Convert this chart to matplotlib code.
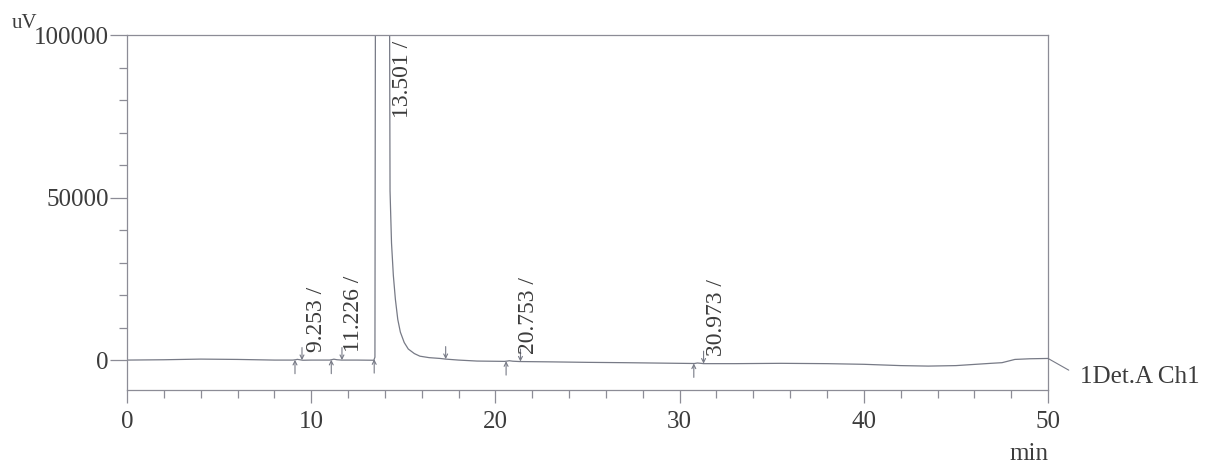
import numpy as np
import matplotlib
matplotlib.use("Agg")
import matplotlib.pyplot as plt

# --- adatok ---
ido = [0.0, 2.0, 4.0, 6.0, 8.0, 9.0, 9.15, 9.25, 9.4, 9.55, 10.0, 11.0, 11.12, 11.23, 11.4, 11.65,
       12.5, 13.4, 13.46, 13.52, 13.8, 14.22, 14.28, 14.36, 14.46, 14.57, 14.70, 14.84, 15.05,
       15.27, 15.6, 15.9, 16.4, 17.0, 17.3, 18.0, 19.0, 20.5, 20.65, 20.75, 20.95, 21.3, 23.0,
       25.0, 27.0, 30.0, 30.8, 30.97, 31.15, 31.3, 33.0, 35.5, 38.0, 40.0, 42.0, 43.5, 45.0,
       46.9, 47.5, 48.2, 49.0, 50.0]
jel = [0, 100, 300, 200, 0, 0, 100, 220, 80, -50, 0, 0, 120, 280, 100, 0,
       0, -50, 900, 250000, 480000, 180000, 52000, 36000, 26000, 18700, 12500, 8600, 5400,
       3400, 2000, 1200, 750, 500, 300, 0, -300, -400, -300, -200, -350, -450, -550,
       -700, -800, -1000, -1050, -900, -1000, -1100, -1100, -1000, -1100, -1300, -1700, -1850, -1700,
       -1000, -800, 200, 400, 500]

csucs_ido = [9.253, 11.226, 13.501, 20.753, 30.973]
csucs_kezdet = [9.12, 11.09, 13.42, 20.58, 30.77]
csucs_veg = [9.50, 11.67, 17.30, 21.36, 31.30]

x_tickek = [0, 10, 20, 30, 40, 50]
y_tickek = [0, 50000, 100000]

vonal_szin = "#777a86"
keret_szin = "#8c8c96"
szoveg_szin = "#3c3c3c"

plt.rcParams["font.family"] = ["Liberation Serif", "DejaVu Serif"]

fig = plt.figure(figsize=(12.14, 4.63), dpi=100, facecolor="white")
ax = fig.add_axes([0.1046, 0.1577, 0.7587, 0.7667])

ax.plot(ido, jel, color=vonal_szin, linewidth=0.9)
ax.set_xlim(0, 50)
ax.set_ylim(-9200, 100000)

for s in ax.spines.values():
    s.set_color(keret_szin)
    s.set_linewidth(0.9)

ax.set_xticks(x_tickek)
ax.set_xticks(np.arange(0, 51, 2), minor=True)
ax.set_yticks(y_tickek)
ax.set_yticks(np.arange(10000, 100000, 10000), minor=True)
ax.set_yticklabels([str(v) for v in y_tickek])
ax.tick_params(axis="both", which="major", labelsize=18, labelcolor=szoveg_szin,
               color=keret_szin, width=0.9)
ax.tick_params(axis="x", which="major", length=9, pad=6)
ax.tick_params(axis="x", which="minor", length=5.5, color=keret_szin, width=0.9)
ax.tick_params(axis="y", which="major", length=12, pad=1)
ax.tick_params(axis="y", which="minor", length=6, color=keret_szin, width=0.9)

# egység feliratok
fig.text(12 / 1214, 1 - 28 / 463, "uV", fontsize=15, color=szoveg_szin, ha="left", va="baseline")
fig.text(1048 / 1214, 1 - 460 / 463, "min", fontsize=18, color=szoveg_szin, ha="right", va="baseline")

# csúcs kezdet / vég nyilak
nyil = dict(arrowstyle="->", color=vonal_szin, lw=0.8, mutation_scale=7, shrinkA=0, shrinkB=0)
for t in csucs_kezdet:
    yv = np.interp(t, ido, jel)
    ax.annotate("", xy=(t, yv), xytext=(0, -10), textcoords="offset points", arrowprops=nyil)
for t in csucs_veg:
    yv = np.interp(t, ido, jel)
    ax.annotate("", xy=(t, yv), xytext=(0, 9), textcoords="offset points", arrowprops=nyil)

# csúcs feliratok
ymax = ax.get_ylim()[1]
for t in csucs_ido:
    yv = np.interp(t, ido, jel)
    felirat = f"{t:.3f} /"
    if max(jel) > ymax and abs(t - 13.501) < 0.01:
        ax.annotate(felirat, xy=(t, 1), xycoords=("data", "axes fraction"),
                    xytext=(19, -4), textcoords="offset points", rotation=90,
                    ha="center", va="top", fontsize=17, color=szoveg_szin)
    else:
        ax.annotate(felirat, xy=(t, yv), xytext=(14, 5), textcoords="offset points",
                    rotation=90, ha="center", va="bottom", fontsize=17, color=szoveg_szin)

# csatorna neve
ax.annotate("1Det.A Ch1", xy=(ido[-1], jel[-1]), xytext=(23, -13), textcoords="offset points",
            ha="left", va="center", fontsize=18, color=szoveg_szin, annotation_clip=False,
            arrowprops=dict(arrowstyle="-", color=vonal_szin, lw=0.8, shrinkA=7, shrinkB=0,
                            relpos=(0, 0.5)))

fig.savefig("out.png", dpi=100, facecolor="white")
